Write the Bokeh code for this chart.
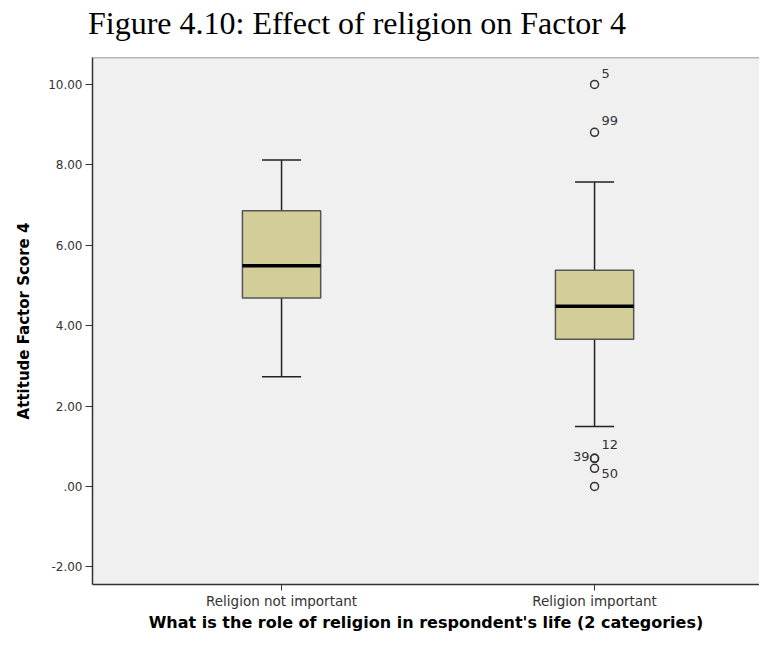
from bokeh.plotting import figure
from bokeh.models import Range1d, FixedTicker, ColumnDataSource, Span, Div
from bokeh.layouts import column
from bokeh.core.properties import value
from bokeh.embed import file_html
from bokeh.resources import INLINE

# ---- data ----
categories = ["Religion not important", "Religion important"]
q1 = [4.69, 3.66]
median = [5.49, 4.48]
q3 = [6.86, 5.38]
whisker_low = [2.73, 1.49]
whisker_high = [8.12, 7.57]

outlier_category = ["Religion important"] * 6
outlier_values = [10.0, 8.81, 0.70, 0.70, 0.45, 0.0]
outlier_labels = ["5", "99", "12", "39", "50", ""]

y_ticks = [-2, 0, 2, 4, 6, 8, 10]
y_tick_labels = ["-2.00", ".00", "2.00", "4.00", "6.00", "8.00", "10.00"]

title_text = "Figure 4.10: Effect of religion on Factor 4"

# ---- label styling (screen offsets) ----
label_dx = [7, 7, 7, -5, 7, 0]
label_dy = [-11, -12, -14, -2, 5, 0]
label_align = ["left", "left", "left", "right", "left", "left"]

xpos = [i + 1 for i in range(len(categories))]
pos_of = {c: i + 1 for i, c in enumerate(categories)}

BOX_W = 0.25
CAP_W = 0.125

box_src = ColumnDataSource(dict(
    x=xpos, q1=q1, q3=q3, med=median, lo=whisker_low, hi=whisker_high,
    xl=[x - BOX_W / 2 for x in xpos], xr=[x + BOX_W / 2 for x in xpos],
    cl=[x - CAP_W / 2 for x in xpos], cr=[x + CAP_W / 2 for x in xpos],
))

out_src = ColumnDataSource(dict(
    x=[pos_of[c] for c in outlier_category], y=outlier_values,
    label=outlier_labels, dx=label_dx, dy=label_dy, align=label_align,
))

TITLE_H = 50
X_START, X_END = 0.396, 2.527
Y_START, Y_TOP = -2.44, 10.67
p = figure(width=759, height=634 - TITLE_H, output_backend="svg", toolbar_location=None,
           x_range=Range1d(X_START, X_END), y_range=Range1d(Y_START, Y_TOP),
           min_border_left=92, min_border_right=0, min_border_top=57 - TITLE_H,
           min_border_bottom=49)

p.background_fill_color = "#F0F0F0"
p.border_fill_color = "white"
p.outline_line_color = None
p.xgrid.visible = False
p.ygrid.visible = False

# whiskers
p.segment(x0="x", x1="x", y0="q3", y1="hi", source=box_src, line_color="#222222", line_width=1.5)
p.segment(x0="x", x1="x", y0="lo", y1="q1", source=box_src, line_color="#222222", line_width=1.5)
# caps
p.segment(x0="cl", x1="cr", y0="hi", y1="hi", source=box_src, line_color="#222222", line_width=1.5)
p.segment(x0="cl", x1="cr", y0="lo", y1="lo", source=box_src, line_color="#222222", line_width=1.5)
# boxes
p.vbar(x="x", width=BOX_W, bottom="q1", top="q3", source=box_src,
       fill_color="#D3CE98", line_color="#555555", line_width=1.5)
# medians
p.segment(x0="xl", x1="xr", y0="med", y1="med", source=box_src, line_color="black", line_width=3.5)

# outliers
p.scatter(x="x", y="y", source=out_src, marker="circle", size=8,
          fill_color=None, line_color="#333333", line_width=1.5)
p.text(x="x", y="y", text="label", source=out_src, x_offset="dx", y_offset="dy",
       text_align="align", text_baseline="middle", text_font=value("DejaVu Sans"),
       text_font_size="13px", text_color="#333333")

# top border
p.add_layout(Span(location=Y_TOP, dimension="width", line_color="#777777", line_width=1.5))

# axes
p.yaxis.ticker = FixedTicker(ticks=y_ticks)
p.yaxis.major_label_overrides = dict(zip(y_ticks, y_tick_labels))
p.xaxis.ticker = FixedTicker(ticks=xpos)
p.xaxis.major_label_overrides = dict(zip(xpos, categories))

for ax in (p.xaxis, p.yaxis):
    ax.minor_tick_line_color = None
    ax.major_tick_in = 0
    ax.major_tick_out = 7
    ax.major_tick_line_color = "#333333"
    ax.axis_line_color = "#333333"
    ax.axis_line_width = 1.5
    ax.major_label_text_font = "DejaVu Sans"
    ax.major_label_text_color = "#333333"
    ax.axis_label_text_font = "DejaVu Sans"
    ax.axis_label_text_font_style = "bold"
    ax.axis_label_text_color = "black"

p.xaxis.major_tick_out = 6
p.xaxis.major_label_standoff = 2
p.xaxis.major_label_text_font_size = "13.5px"
p.xaxis.axis_label = "What is the role of religion in respondent's life (2 categories)"
p.xaxis.axis_label_text_font_size = "16px"
p.xaxis.axis_label_standoff = 1

p.yaxis.major_label_text_font_size = "12px"
p.yaxis.major_label_standoff = 3
p.yaxis.axis_label = "Attitude Factor Score 4"
p.yaxis.axis_label_text_font_size = "15px"
p.yaxis.axis_label_standoff = 12

title_div = Div(
    text=('<div style="font-family: \'Liberation Serif\', serif; font-size: 32px; '
          'line-height: 36px; color: black; white-space: nowrap; '
          'margin: 5px 0 0 88px;">' + title_text + '</div>'),
    width=759, height=TITLE_H, margin=0)

layout = column(title_div, p, spacing=0)

open("out.html", "w").write(file_html(layout, INLINE))
